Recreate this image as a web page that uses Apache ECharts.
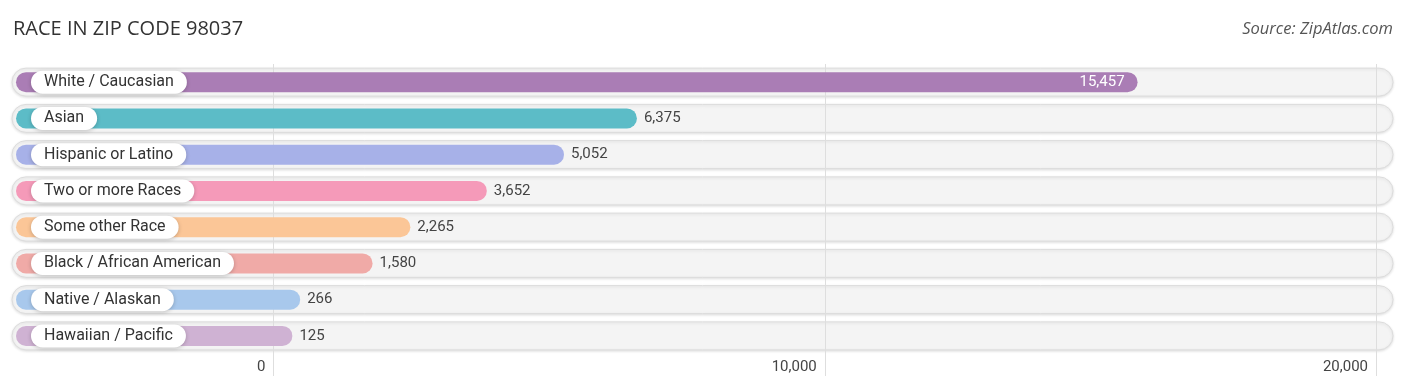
<!DOCTYPE html>
<html>
<head>
<meta charset="utf-8">
<script src="https://cdn.jsdelivr.net/npm/echarts@6/dist/echarts.min.js"></script>
<style>
html,body{margin:0;padding:0;background:#fff;}
#chart{width:1406px;height:391px;}
</style>
</head>
<body>
<div id="chart"></div>
<script>
const categories = ["White / Caucasian","Asian","Hispanic or Latino","Two or more Races","Some other Race","Black / African American","Native / Alaskan","Hawaiian / Pacific"];
const values = [15457, 6375, 5052, 3652, 2265, 1580, 266, 125];
const barColors = ["#aa7db5","#5cbcc7","#a7b1e8","#f59ab9","#fbc697","#f0aaa7","#a8c8ec","#cfb2d3"];
const tickValues = [0, 10000, 20000];

const chart = echarts.init(document.getElementById('chart'));
const rows = values.map((v, i) => [v, i]);
const fmt = v => v.toLocaleString('en-US');

function bgItem(params, api) {
  const idx = api.value(1);
  const p0 = api.coord([0, idx]);
  const pMax = api.coord([tickValues[tickValues.length - 1], idx]);
  const left = p0[0] - 261.5, right = pMax[0] + 17;
  const h = 28;
  return {
    type: 'rect',
    shape: {x: left, y: p0[1] - h / 2, width: right - left, height: h, r: h / 2},
    style: {fill: '#f4f4f4', stroke: '#dcdcdc', lineWidth: 1, shadowBlur: 3, shadowColor: 'rgba(0,0,0,0.12)', shadowOffsetY: 1}
  };
}

function barItem(params, api) {
  const val = api.value(0), idx = api.value(1);
  const p0 = api.coord([0, idx]);
  const pv = api.coord([val, idx]);
  const left = p0[0] - 257.5;
  const end = pv[0] + 12;
  const h = 20;
  const yc = p0[1];
  const inside = val > 10000;
  const children = [
    {type: 'rect', shape: {x: left, y: yc - h / 2, width: end - left, height: h, r: h / 2},
     style: {fill: barColors[idx]}},
    {type: 'text', x: left + 15, y: yc,
     style: {text: categories[idx], fontFamily: 'Roboto', fontSize: 16, fill: '#333',
             verticalAlign: 'middle', align: 'left',
             backgroundColor: '#ffffff', borderRadius: 12, padding: [4, 13, 3, 13],
             shadowBlur: 4, shadowColor: 'rgba(0,0,0,0.22)', shadowOffsetY: 1}},
    {type: 'text', x: inside ? end - 13 : end + 7, y: yc,
     style: {text: fmt(val), fontFamily: 'Roboto', fontSize: 15,
             fill: inside ? '#ffffff' : '#444',
             align: inside ? 'right' : 'left', verticalAlign: 'middle'}}
  ];
  return {type: 'group', children};
}

chart.setOption({
  animation: false,
  title: [
    {text: 'RACE IN ZIP CODE 98037', left: 8, top: 14,
     textStyle: {fontFamily: 'Open Sans', fontSize: 20, fontWeight: 'normal', color: '#333'}},
    {text: 'Source: ZipAtlas.com', right: 8, top: 16,
     textStyle: {fontFamily: 'Open Sans', fontSize: 16.5, fontStyle: 'italic', fontWeight: 'normal', color: '#555'}}
  ],
  grid: {left: 273.5, right: 30, top: 64, bottom: 37},
  xAxis: {
    type: 'value', min: 0, max: 20000, interval: 10000,
    axisLine: {show: false},
    axisTick: {show: true, length: 22, lineStyle: {color: '#dedede'}},
    splitLine: {show: true, lineStyle: {color: '#dedede'}},
    axisLabel: {fontFamily: 'Roboto', fontSize: 15, color: '#444', align: 'right',
                padding: [0, 8, 0, 0], margin: 6, formatter: v => fmt(v)}
  },
  yAxis: {
    type: 'category', data: categories, inverse: true,
    axisLine: {show: false}, axisTick: {show: false}, axisLabel: {show: false}, splitLine: {show: false}
  },
  series: [
    {type: 'custom', z: -1, renderItem: bgItem, data: rows, encode: {x: 0, y: 1}, clip: false, silent: true},
    {type: 'custom', z: 3, renderItem: barItem, data: rows, encode: {x: 0, y: 1}, clip: false}
  ]
});
</script>
</body>
</html>
